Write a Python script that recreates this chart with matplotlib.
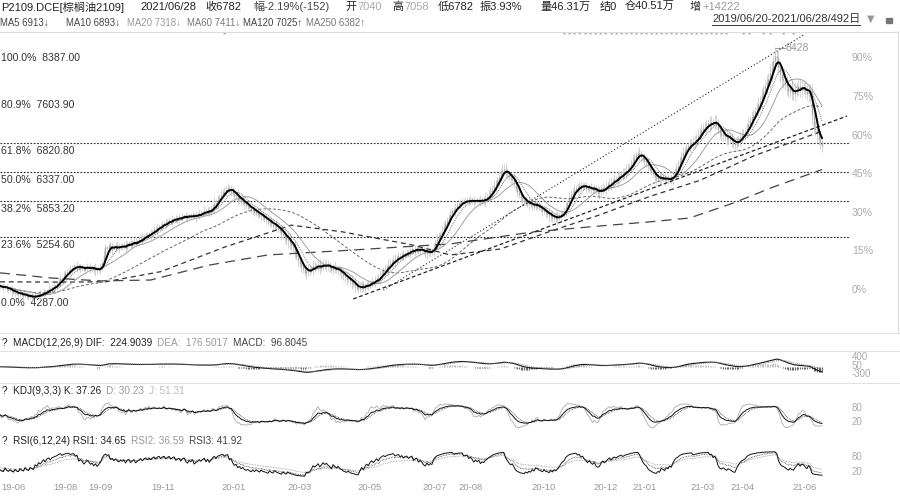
import numpy as np
import pandas as pd
import matplotlib
matplotlib.use('Agg')
import matplotlib.pyplot as plt
from matplotlib.lines import Line2D

FONT = ['Liberation Sans', 'Noto Sans CJK SC', 'DejaVu Sans']
plt.rcParams['font.family'] = FONT

W, H = 900, 496
DX = 1.674                      # pixels per trading day
PX_PRICE = 16.77                # price units per pixel, main panel
Y_BASE_PX, Y_BASE = 294.5, 4287.0   # where the 0.0% fib level sits

# daily closes 2019/06/20 - 2021/06/28 (492 bars)
closes = [
    4430, 4412, 4398, 4420, 4385, 4360, 4372, 4340, 4318, 4335,
    4302, 4290, 4310, 4282, 4266, 4290, 4258, 4240, 4262, 4248,
    4236, 4270, 4255, 4290, 4276, 4300,
    4330, 4312, 4356, 4380, 4366, 4402, 4420, 4438, 4462,
    4510, 4560, 4548, 4600, 4640, 4672,
    4700, 4690, 4735, 4760, 4742, 4776,
    4720, 4755, 4738, 4702, 4726, 4760, 4744, 4718, 4730,
    4700, 4722, 4690, 4712, 4734,
    4820, 4950, 5080, 5060, 5120, 5040, 5090,
    5050, 5110, 5082, 5060, 5104, 5090,
    5120, 5075, 5140, 5160, 5118, 5150, 5182, 5140, 5170,
    5200, 5236, 5210, 5262, 5290, 5270, 5318, 5300, 5346, 5380, 5362, 5410,
    5440, 5420, 5468, 5490, 5470, 5500, 5536, 5512, 5548, 5570, 5540, 5562,
    5580, 5556, 5600, 5620, 5586, 5570, 5610, 5598, 5630, 5584, 5606,
    5620, 5650, 5636, 5664, 5690, 5660, 5700, 5672, 5710,
    5760, 5820, 5800, 5880, 5920, 5960,
    6010, 5990, 6060, 6080, 6020, 6050,
    5990, 5940, 5960, 5880, 5900, 5840, 5860, 5800, 5770,
    5780, 5740, 5700, 5720, 5660, 5680, 5640, 5600, 5620, 5580, 5560,
    5540, 5500, 5520, 5470, 5440, 5460, 5420, 5390,
    5360, 5300, 5320, 5250, 5200, 5220, 5150, 5110, 5080,
    5000, 4920, 4870, 4800, 4760,
    4720, 4650, 4700, 4680, 4690,
    4720, 4770, 4740, 4760, 4790, 4730, 4760,
    4800, 4770, 4790, 4760,
    4740, 4700, 4750, 4720, 4690, 4710,
    4660, 4640, 4600, 4580, 4550, 4560,
    4520, 4480, 4470, 4430, 4400, 4380,
    4410, 4440, 4400, 4430,
    4460, 4440, 4480, 4510, 4490, 4520, 4560, 4540,
    4600, 4650, 4700, 4690, 4740, 4780, 4800, 4840,
    4870, 4850, 4900, 4930, 4910, 4960, 4940, 4980,
    5000, 4980, 5020, 5050, 5010, 5040, 5060, 5020, 5050, 5030,
    5000, 4980, 5020, 4990, 5010, 5000,
    5080, 5150, 5220, 5260, 5300, 5340,
    5420, 5480, 5520,
    5580, 5640, 5700, 5680, 5740, 5780,
    5800, 5820, 5860, 5830, 5850, 5870,
    5840, 5880, 5860, 5830, 5870, 5850, 5880, 5840, 5870, 5860,
    5900, 5920, 5960, 5990,
    6040, 6100, 6140, 6200,
    6260, 6320, 6380, 6400,
    6340, 6300, 6260, 6220, 6240, 6180,
    6080, 6000, 5960, 5900, 5880, 5840,
    5860, 5800, 5820, 5780, 5810, 5760, 5800, 5780,
    5740, 5720, 5680, 5700, 5650, 5640,
    5600, 5620, 5570, 5590, 5560, 5580,
    5600, 5630, 5660, 5680,
    5760, 5820, 5900,
    5960, 5990, 6040, 6080,
    6060, 6120, 6090, 6130, 6100,
    6080, 6050, 6090, 6060, 6040, 6070,
    6020, 5990, 6000,
    6040, 6080, 6060, 6090,
    6120, 6160, 6140, 6190, 6220, 6210,
    6250, 6280, 6310, 6300, 6340, 6370, 6400, 6420,
    6480, 6520, 6580, 6620, 6660, 6640,
    6600, 6560, 6520, 6500,
    6440, 6380, 6350, 6300, 6260, 6230,
    6250, 6220, 6260, 6240,
    6200, 6230, 6210, 6240, 6220,
    6280, 6340, 6400, 6440,
    6520, 6600, 6660, 6700,
    6740, 6780, 6800, 6840, 6820, 6860,
    6900, 6950, 7000, 7040, 7080, 7100,
    7120, 7160, 7140, 7180,
    7150, 7200, 7160,
    7060, 6990, 6960,
    6980, 6940, 6900, 6920, 6900,
    6860, 6820, 6800, 6840,
    6880, 6920, 6960, 6980, 7000,
    7080, 7140, 7200, 7260, 7300,
    7360, 7420, 7480, 7520,
    7620, 7700, 7780, 7850, 7900,
    8000, 8080, 8200, 8280, 8250,
    8100, 7980, 7900, 7880,
    7820, 7760, 7700, 7740,
    7680, 7650, 7700,
    7740, 7780, 7720, 7760,
    7750, 7700, 7650, 7700, 7640,
    7300, 7100, 7050, 6980, 6900, 6850, 6782,
]

# shadow length of each bar beyond its body, in units of WICK_UNIT
wick_digits = """
2131221312 1221312213 2112312213 1231223132 2132213122
1221323421 3232122312 2312232132 2213231221 3122312213
2213122312 1231221323 2132233243 3242323132 3243223231
2322313223 2324233243 4354434253 4324332432 3423243322
3232433423 4342323322 3231323422 3243234232 2312232132
2322342323 3432432323 2232232132 2323122323 4334343243
4343233423 2332324232 2322323243 3234232332 4334232322
3223232343 3243342324 3243442343 2343243332 2342332423
2343443343 3243443434 3443543443 3443443433 4344343434
4345454554 6546455454 5445454455 4545574454 54
"""
WICK_UNIT = 25

# long averages (need history before the window)
ma120_bars = [0, 34, 63, 96, 134, 174, 204, 246, 269, 299, 329, 358, 388, 418, 451, 491]
ma120_vals = [4500, 4495, 4500, 4670, 5080, 5450, 5340, 5120, 4950, 5050, 5350, 5620,
              5930, 6200, 6620, 7025]
ma250_bars = [0, 30, 60, 90, 125, 160, 209, 269, 318, 358, 388, 412, 438, 462, 491]
ma250_vals = [4650, 4565, 4515, 4530, 4780, 4950, 5030, 5135, 5335, 5435, 5505, 5570,
              5820, 6090, 6382]

fib_pcts = [100.0, 80.9, 61.8, 50.0, 38.2, 23.6, 0.0]
fib_prices = [8387.00, 7603.90, 6820.80, 6337.00, 5853.20, 5254.60, 4287.00]
fib_lines_shown = [61.8, 50.0, 38.2, 23.6]

pct_ticks = [0, 15, 30, 45, 60, 75, 90]
PCT_ZERO, PCT_STEP = 4362.5, 43.17      # price at 0% and per 1% on the right scale

tick_bars = [0, 31, 52, 90, 132, 171, 213, 252, 273, 317, 354, 377, 412, 436, 473]
tick_labels = ['19-06', '19-08', '19-09', '19-11', '20-01', '20-03', '20-05', '20-07',
               '20-08', '20-10', '20-12', '21-01', '21-03', '21-04', '21-06']

# hand-drawn trend lines (bar, price)
trend_a_bars, trend_a_prices = [229, 480], [4362, 8639]
trend_b_bars, trend_b_prices = [211, 506], [4212, 7280]

star_bars = [134, 337, 340, 343, 346, 350, 353, 356, 359, 362, 365, 368, 371, 374, 377,
             380, 383, 386, 389, 392, 395, 398, 401, 404, 407, 410, 413, 416, 419, 422,
             425, 428, 431, 434, 444, 448, 456, 460, 468, 474]
PEAK_HIGH = 8428

header_1 = [(1, 'P2109.DCE[棕榈油2109]', '#222'), (140, '2021/06/28', '#222'),
            (205, '收6782', '#222'), (253, '幅-2.19%(-152)', '#444'),
            (345, '开', '#222'), (357, '7040', '#aaa'), (392, '高', '#222'),
            (404, '7058', '#aaa'), (438, '低6782', '#222'), (480, '振3.93%', '#222'),
            (540, '量46.31万', '#222'), (600, '结0', '#222'), (625, '仓40.51万', '#222'),
            (690, '增', '#222'), (702, '+14222', '#999')]
header_2 = [(0, 'MA5 6913↓', '#444'), (66, 'MA10 6893↓', '#444'), (127, 'MA20 7318↓', '#999'),
            (187, 'MA60 7411↓', '#777'), (243, 'MA120 7025↑', '#444'),
            (306, 'MA250 6382↑', '#777')]
DATE_RANGE = '2019/06/20-2021/06/28/492日'

macd_head = [('?  MACD(12,26,9) DIF:  224.9039', '#222'), ('DEA:  176.5017', '#999'),
             ('MACD:  96.8045', '#444')]
kdj_head = [('?  KDJ(9,3,3) K: 37.26', '#222'), ('D: 30.23', '#999'), ('J: 51.31', '#bbb')]
rsi_head = [('?  RSI(6,12,24) RSI1: 34.65', '#222'), ('RSI2: 36.59', '#999'),
            ('RSI3: 41.92', '#444')]

# ---------------------------------------------------------------- series
c = pd.Series(closes, dtype=float)
n = len(c)
x = np.arange(n)
o = c.shift(1).fillna(c.iloc[0])
ext = np.array([int(d) for d in ''.join(wick_digits.split())][:n], dtype=float) * WICK_UNIT
hi = np.maximum(o, c) + ext
lo = np.minimum(o, c) - ext

ma = {k: c.rolling(k, min_periods=1).mean() for k in (5, 10, 20, 60)}

ema12 = c.ewm(span=12, adjust=False).mean()
ema26 = c.ewm(span=26, adjust=False).mean()
dif = ema12 - ema26
dea = dif.ewm(span=9, adjust=False).mean()
macd = 2 * (dif - dea)

llv = lo.rolling(9, min_periods=1).min()
hhv = hi.rolling(9, min_periods=1).max()
rsv = ((c - llv) / (hhv - llv) * 100).fillna(50)
k_line = rsv.ewm(alpha=1 / 3, adjust=False).mean()
d_line = k_line.ewm(alpha=1 / 3, adjust=False).mean()
j_line = 3 * k_line - 2 * d_line

chg = c.diff().fillna(0)


def rsi(period):
    # seed the smoothing with the first window's averages (no history before the window)
    up = chg.clip(lower=0).copy()
    ab = chg.abs().copy()
    up.iloc[0] = up.iloc[1:period + 1].mean()
    ab.iloc[0] = ab.iloc[1:period + 1].mean()
    up = up.ewm(alpha=1 / period, adjust=False).mean()
    ab = ab.ewm(alpha=1 / period, adjust=False).mean()
    return (up / ab * 100).fillna(50)


# ---------------------------------------------------------------- layout helpers
fig = plt.figure(figsize=(W / 100, H / 100), dpi=100)
fig.patch.set_facecolor('white')


def rect_px(x0, y0, x1, y1):
    return [x0 / W, 1 - y1 / H, (x1 - x0) / W, (y1 - y0) / H]


def hline_px(y, x0=0, x1=W, color='#e2e2e2', lw=0.8):
    fig.add_artist(Line2D([x0 / W, x1 / W], [1 - y / H, 1 - y / H], color=color, lw=lw))


def ftext(xp, yp, s, size=7.5, color='#222', **kw):
    return fig.text(xp / W, 1 - yp / H, s, fontsize=size, color=color, va='center',
                    ha='left', **kw)


def text_run(xp, yp, pieces, size=7.2, gap=5):
    r = fig.canvas.get_renderer()
    for s, col in pieces:
        t = ftext(xp, yp, s, size=size, color=col)
        xp += t.get_window_extent(renderer=r).width + gap


XMAX = 898 / DX

# ---------------------------------------------------------------- main panel
ax = fig.add_axes(rect_px(0, 31, 898, 333))
ax.set_xlim(0, XMAX)
ax.set_ylim(Y_BASE - (333 - Y_BASE_PX) * PX_PRICE, Y_BASE + (Y_BASE_PX - 31) * PX_PRICE)
ax.set_axis_off()

fib_end = 850 / DX
for p, v in zip(fib_pcts, fib_prices):
    if p in fib_lines_shown:
        ax.plot([0, fib_end], [v, v], color='#222', lw=0.8, ls=(0, (1.5, 1.5)), zorder=1)
    ax.annotate(f'{p:.1f}%  {v:.2f}', (0.6, v), xytext=(0, -5.8), textcoords='offset points',
                va='center', ha='left', fontsize=7.6, color='#333', zorder=1)

for p in pct_ticks:
    ax.text(852 / DX, PCT_ZERO + p * PCT_STEP, f'{p}%', fontsize=7.6, color='#aaa',
            va='center', ha='left')

ax.vlines(x, lo, hi, color='#cccccc', lw=0.6, zorder=2)
ax.vlines(x, np.minimum(o, c), np.maximum(o, c), color='#ababab', lw=1.0, zorder=2)

ax.plot(ma120_bars, ma120_vals, color='#333', lw=0.9, ls=(0, (4, 3)), zorder=3)
ax.plot(ma250_bars, ma250_vals, color='#444', lw=0.9, ls=(0, (8, 5)), zorder=3)
ax.plot(x, ma[60], color='#666', lw=0.7, ls=(0, (3, 2)), zorder=3)
ax.plot(x, ma[20], color='#a0a0a0', lw=0.7, zorder=3)
ax.plot(x, ma[10], color='#777', lw=0.7, ls=(0, (1, 1)), zorder=3)
ax.plot(x, ma[5], color='black', lw=1.4, zorder=4)

ax.plot(trend_a_bars, trend_a_prices, color='#222', lw=0.8, ls=(0, (1, 2)), zorder=3)
ax.plot(trend_b_bars, trend_b_prices, color='#222', lw=0.9, ls=(0, (3, 2)), zorder=3)

ip = int(np.argmax(hi))
ax.plot([ip, ip + 6], [PEAK_HIGH, PEAK_HIGH], color='#999', lw=0.7)
ax.text(ip + 6.5, PEAK_HIGH, f'{PEAK_HIGH}', fontsize=7.5, color='#999', va='center')

star_y = Y_BASE + (Y_BASE_PX - 35) * PX_PRICE
for b in star_bars:
    ax.text(b, star_y, '*', fontsize=6, color='#888', ha='center', va='center')

# ---------------------------------------------------------------- header
for xp, s, col in header_1:
    ftext(xp, 7, s, size=8, color=col)
for xp, s, col in header_2:
    ftext(xp, 23, s, size=6.9, color=col)
r = fig.canvas.get_renderer()
t = ftext(712, 19, DATE_RANGE, size=8, color='#333')
bb = t.get_window_extent(renderer=r)
hline_px(25, 712, 712 + bb.width, color='#333', lw=0.7)
ftext(867, 19, '▼', size=7, color='#999', family='DejaVu Sans')
fig.add_artist(plt.Rectangle((886 / W, 1 - 23 / H), 6 / W, 5 / H, color='#777'))

hline_px(31.5, 0, 898, color='#dddddd')
fig.add_artist(Line2D([898 / W, 898 / W], [1 - 31 / H, 1 - 333 / H], color='#dddddd', lw=0.8))
hline_px(333)
hline_px(351)
hline_px(383)

# ---------------------------------------------------------------- MACD
ax_m = fig.add_axes(rect_px(0, 352, 898, 382))
ax_m.set_xlim(0, XMAX)
ax_m.set_ylim(-629, 606)
ax_m.set_axis_off()
ax_m.vlines(x, 0, macd, color=np.where(macd >= 0, '#c4c4c4', '#666'), lw=0.8)
ax_m.plot(x, dif, color='#111', lw=0.8)
ax_m.plot(x, dea, color='#888', lw=0.7, ls=(0, (1, 1)))
for v in (400, 50, -300):
    ax_m.text(852 / DX, v, str(v), fontsize=7, color='#aaa', va='center')
text_run(2, 343.3, macd_head)

# ---------------------------------------------------------------- KDJ
ax_k = fig.add_axes(rect_px(0, 393, 898, 432))
ax_k.set_xlim(0, XMAX)
ax_k.set_ylim(-25.1, 145.7)
ax_k.set_axis_off()
ax_k.plot(x, j_line, color='#aaa', lw=0.6)
ax_k.plot(x, d_line, color='#444', lw=0.6, ls=(0, (1, 1)))
ax_k.plot(x, k_line, color='#111', lw=0.7)
for v in (80, 20):
    ax_k.text(852 / DX, v, str(v), fontsize=7, color='#aaa', va='center')
text_run(2, 391, kdj_head)

# ---------------------------------------------------------------- RSI
ax_r = fig.add_axes(rect_px(0, 447, 898, 479))
ax_r.set_xlim(0, XMAX)
ax_r.set_ylim(-9.2, 118.8)
ax_r.set_axis_off()
ax_r.plot(x, rsi(24), color='#999', lw=0.6, ls=(0, (1, 1)))
ax_r.plot(x, rsi(12), color='#444', lw=0.6, ls=(0, (1, 1)))
ax_r.plot(x, rsi(6), color='#111', lw=0.7)
for v in (80, 20):
    ax_r.text(852 / DX, v, str(v), fontsize=7, color='#aaa', va='center')
text_run(2, 441, rsi_head)

for b, lab in zip(tick_bars, tick_labels):
    ftext(b * DX + 1, 487, lab, size=6.8, color='#999')

fig.savefig('out.png', dpi=100, facecolor='white')
